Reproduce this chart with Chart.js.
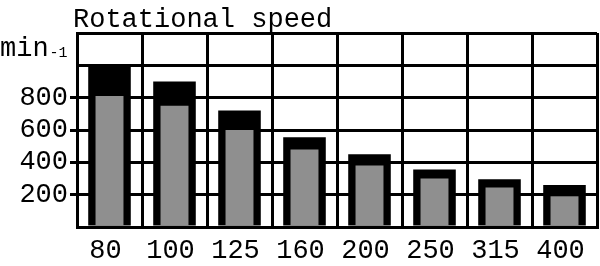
<!DOCTYPE html>
<html>
<head>
<meta charset="utf-8">
<script src="https://cdn.jsdelivr.net/npm/chart.js@4/dist/chart.umd.min.js"></script>
<style>
html,body{margin:0;padding:0;background:#fff;}
#wrap{width:600px;height:266px;position:relative;}
</style>
</head>
<body>
<div id="wrap"><canvas id="c"></canvas></div>
<script>
const categories = ['80', '100', '125', '160', '200', '250', '315', '400'];
const maxSpeed = [1000, 900, 720, 555, 450, 355, 295, 260];
const minSpeed = [810, 750, 600, 480, 380, 300, 245, 190];
const yTickLabels = [200, 400, 600, 800];
const chartTitle = 'Rotational speed';
const unitMain = 'min';
const unitSub = '-1';

const FONT = '"Liberation Mono", "DejaVu Sans Mono", monospace';

const textPlugin = {
  id: 'texts',
  afterDraw(chart) {
    const ctx = chart.ctx;
    const a = chart.chartArea;
    ctx.save();
    ctx.fillStyle = '#000';
    ctx.textBaseline = 'alphabetic';
    ctx.textAlign = 'left';
    ctx.font = '27px ' + FONT;
    ctx.fillText(chartTitle, a.left - 4, 27);
    ctx.fillText(unitMain, 0, 56);
    const w = ctx.measureText(unitMain).width;
    ctx.font = '15px ' + FONT;
    ctx.fillText(unitSub, w + 1, 57);
    ctx.restore();
  }
};

new Chart(document.getElementById('c'), {
  type: 'bar',
  data: {
    labels: categories,
    datasets: [
      {
        data: minSpeed,
        backgroundColor: '#8f8f8f',
        borderWidth: 0,
        barPercentage: 0.43,
        categoryPercentage: 1,
        grouped: false
      },
      {
        data: maxSpeed,
        backgroundColor: '#000',
        borderWidth: 0,
        barPercentage: 0.655,
        categoryPercentage: 1,
        grouped: false
      }
    ]
  },
  options: {
    responsive: true,
    maintainAspectRatio: false,
    animation: false,
    layout: { padding: { top: 33, right: 3, left: 0, bottom: 0 } },
    plugins: { legend: { display: false }, tooltip: { enabled: false }, title: { display: false } },
    scales: {
      x: {
        grid: { color: '#000', lineWidth: 3, drawTicks: false, offset: true },
        border: { color: '#000', width: 3, z: 1 },
        ticks: { color: '#000', font: { family: FONT, size: 27 }, padding: 8, labelOffset: -4, maxRotation: 0, autoSkip: false },
        afterFit(s) { s.height = 39; }
      },
      y: {
        min: 0, max: 1200,
        grid: {
          color: '#000', lineWidth: 3, tickLength: 7,
          tickColor: (c) => (c.tick && yTickLabels.includes(c.tick.value)) ? '#000' : 'rgba(0,0,0,0)'
        },
        border: { color: '#000', width: 3 },
        ticks: {
          stepSize: 200, color: '#000', padding: 2, autoSkip: false,
          font: { family: FONT, size: 27 },
          callback: (v) => yTickLabels.includes(v) ? String(v) : ''
        },
        afterFit(s) { s.width = 77; }
      }
    }
  },
  plugins: [textPlugin]
});
</script>
</body>
</html>
